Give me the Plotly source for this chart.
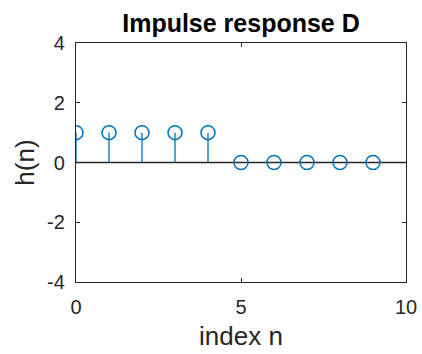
import plotly.graph_objects as go

n = [0, 1, 2, 3, 4, 5, 6, 7, 8, 9]
h = [1, 1, 1, 1, 1, 0, 0, 0, 0, 0]
x_ticks = [0, 5, 10]
y_ticks = [-4, -2, 0, 2, 4]
y_tick_text = ["-4", "-2", "0", "2", "4"]

stem_x, stem_y = [], []
for xi, yi in zip(n, h):
    stem_x += [xi, xi, None]
    stem_y += [0, yi, None]

color = "#0072BD"
fig = go.Figure()
fig.add_trace(go.Scatter(x=[0, 10], y=[0, 0], mode="lines",
                         line=dict(color="#262626", width=1.5), hoverinfo="skip"))
fig.add_trace(go.Scatter(x=stem_x, y=stem_y, mode="lines",
                         line=dict(color=color, width=1.3), hoverinfo="skip"))
fig.add_trace(go.Scatter(x=n, y=h, mode="markers",
                         marker=dict(symbol="circle-open", size=14, color=color,
                                     line=dict(width=1.5, color=color))))

font = "Liberation Sans, Arial, Helvetica, sans-serif"
axis_common = dict(showgrid=False, zeroline=False, showline=True, linecolor="#262626",
                   linewidth=1.3, mirror="ticks", ticks="inside", ticklen=4, automargin=False,
                   tickcolor="#262626", tickfont=dict(size=20, color="#262626", family=font))
fig.update_layout(
    width=422, height=354,
    margin=dict(l=76, r=16, t=43, b=72, autoexpand=False),
    paper_bgcolor="white", plot_bgcolor="white",
    showlegend=False,
    title=dict(text="<b>Impulse response D</b>", x=0.5, xref="paper", y=1 - 23 / 354, yref="container",
               xanchor="center", yanchor="middle",
               font=dict(size=25, color="black", family=font)),
    xaxis=dict(range=[0, 10], tickvals=x_ticks, ticklabelstandoff=7,
               title=dict(text="index n", font=dict(size=26, color="#262626", family=font), standoff=9),
               **axis_common),
    yaxis=dict(range=[-4, 4], tickvals=y_ticks, ticktext=y_tick_text, ticklabelstandoff=6,
               title=dict(text="h(n)", font=dict(size=26, color="#262626", family=font), standoff=4),
               **axis_common),
)
fig.write_html("out.html", config={"displayModeBar": False},
               post_script="document.body.style.margin='0';")
